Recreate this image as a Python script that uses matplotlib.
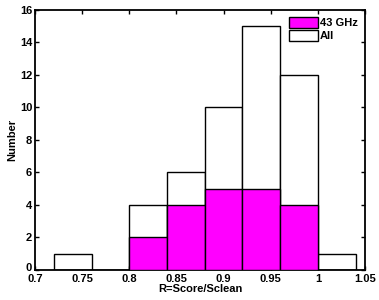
import matplotlib
matplotlib.use("Agg")
import matplotlib.pyplot as plt
import matplotlib.transforms as mtransforms
import numpy as np

plt.rcParams['font.family'] = ['Liberation Sans', 'DejaVu Sans']
plt.rcParams['font.weight'] = 'bold'

# histogram bins (left edges) and counts
bin_left = [0.72, 0.76, 0.80, 0.84, 0.88, 0.92, 0.96, 1.00]
bin_width = 0.04
counts_all = [1, 0, 4, 6, 10, 15, 12, 1]
counts_43 = [0, 0, 2, 4, 5, 5, 4, 0]

x_ticks = [0.7, 0.75, 0.8, 0.85, 0.9, 0.95, 1.0, 1.05]
x_ticklabels = ['0.7', '0.75', '0.8', '0.85', '0.9', '0.95', '1', '1.05']
y_ticks = [0, 2, 4, 6, 8, 10, 12, 14, 16]

fig = plt.figure(figsize=(3.79, 3.00), dpi=100)
ax = fig.add_axes([0.0923, 0.1, 0.8707, 0.8667])

ax.bar(bin_left, counts_all, width=bin_width, align='edge',
       color='white', edgecolor='black', linewidth=1.0, label='All', zorder=2)
ax.bar(bin_left, counts_43, width=bin_width, align='edge',
       color='#ff00ff', edgecolor='black', linewidth=1.0, label='43 GHz', zorder=3)

ax.set_xlim(0.7, 1.05)
ax.set_ylim(0, 16)
ax.set_xticks(x_ticks)
ax.set_xticklabels(x_ticklabels)
ax.set_yticks(y_ticks)
ax.tick_params(direction='in', top=True, right=True, length=3, width=1,
               labelsize=8)
ax.tick_params(axis='x', pad=3)
ax.tick_params(axis='y', pad=2)
for lbl in ax.get_xticklabels() + ax.get_yticklabels():
    lbl.set_fontweight('bold')
for s in ax.spines.values():
    s.set_linewidth(1.3)

# nudge the "0" y label up a bit so it clears the "0.7" x label
zero_lbl = ax.get_yticklabels()[0]
zero_lbl.set_transform(zero_lbl.get_transform() +
                       mtransforms.ScaledTranslation(0, 2 / 72, fig.dpi_scale_trans))

ax.set_xlabel('R=Score/Sclean', fontsize=8, fontweight='bold', labelpad=0)
ax.set_ylabel('Number', fontsize=8, fontweight='bold', labelpad=2)

handles, labels = ax.get_legend_handles_labels()
ax.legend(handles[::-1], labels[::-1], loc='upper right', frameon=False,
          prop={'weight': 'bold', 'size': 8},
          handlelength=2.6, handleheight=1.1, handletextpad=0.15,
          labelspacing=0.15, borderaxespad=0.25)

fig.savefig('out.png', dpi=100)
